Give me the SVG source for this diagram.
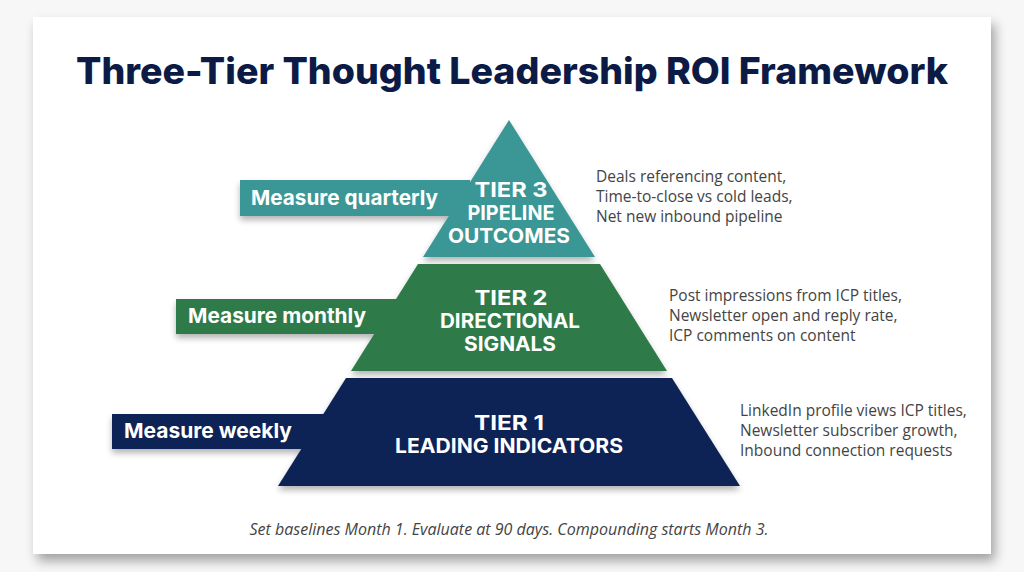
<svg xmlns="http://www.w3.org/2000/svg" width="1024" height="572" viewBox="0 0 1024 572">
  <defs>
    <filter id="cardShadow" x="-5%" y="-5%" width="112%" height="115%">
      <feGaussianBlur in="SourceAlpha" stdDeviation="6"/>
      <feOffset dx="4" dy="7" result="b"/>
      <feComponentTransfer><feFuncA type="linear" slope="0.35"/></feComponentTransfer>
      <feMerge><feMergeNode/><feMergeNode in="SourceGraphic"/></feMerge>
    </filter>
    <filter id="tierShadow" x="-10%" y="-10%" width="120%" height="130%">
      <feGaussianBlur in="SourceAlpha" stdDeviation="3"/>
      <feOffset dx="0" dy="4" result="b"/>
      <feComponentTransfer><feFuncA type="linear" slope="0.3"/></feComponentTransfer>
      <feMerge><feMergeNode/><feMergeNode in="SourceGraphic"/></feMerge>
    </filter>
    <style>
      .title { font-family: Inter, "Liberation Sans", sans-serif; font-weight: 800; font-size: 37px; fill: #0c1b46; }
      .band { font-family: Inter, "Liberation Sans", sans-serif; font-weight: 700; font-size: 20.5px; fill: #ffffff; }
      .tier { font-family: Inter, "Liberation Sans", sans-serif; font-weight: 700; font-size: 20px; fill: #ffffff; text-anchor: middle; }
      .desc { font-family: "Open Sans", "Liberation Sans", sans-serif; font-size: 15.5px; fill: #444444; }
      .foot { font-family: "Open Sans", "Liberation Sans", sans-serif; font-style: italic; font-size: 15.5px; fill: #444444; text-anchor: middle; }
      .teal { fill: #3b9696; }
      .green { fill: #2e7a48; }
      .navy { fill: #0d2154; }
    </style>
  </defs>
  <rect x="0" y="0" width="1024" height="572" fill="#f7f7f7"/>
  <rect x="33" y="17" width="958" height="537" fill="#ffffff" filter="url(#cardShadow)"/>
  <text class="title" x="512" y="84" text-anchor="middle" textLength="872" lengthAdjust="spacingAndGlyphs">Three-Tier Thought Leadership ROI Framework</text>

  <g id="tier3">
    <g filter="url(#tierShadow)">
      <rect class="teal" x="240" y="180" width="230" height="36"/>
      <polygon class="teal" points="509,120 595,257 423,257"/>
    </g>
    <text class="band" x="251" y="205" textLength="187" lengthAdjust="spacingAndGlyphs">Measure quarterly</text>
    <text class="tier" x="511" y="197" textLength="73" lengthAdjust="spacingAndGlyphs">TIER 3</text>
    <text class="tier" x="511" y="220" textLength="87" lengthAdjust="spacingAndGlyphs">PIPELINE</text>
    <text class="tier" x="509" y="243" textLength="122" lengthAdjust="spacingAndGlyphs">OUTCOMES</text>
    <text class="desc" x="596" y="182">Deals referencing content,</text>
    <text class="desc" x="596" y="202">Time-to-close vs cold leads,</text>
    <text class="desc" x="596" y="222">Net new inbound pipeline</text>
  </g>

  <g id="tier2">
    <g filter="url(#tierShadow)">
      <rect class="green" x="176" y="299" width="230" height="35"/>
      <polygon class="green" points="418,264 600,264 667,371 351,371"/>
    </g>
    <text class="band" x="188" y="323" textLength="178" lengthAdjust="spacingAndGlyphs">Measure monthly</text>
    <text class="tier" x="511" y="305" textLength="73" lengthAdjust="spacingAndGlyphs">TIER 2</text>
    <text class="tier" x="510" y="328" textLength="140" lengthAdjust="spacingAndGlyphs">DIRECTIONAL</text>
    <text class="tier" x="510" y="351" textLength="92" lengthAdjust="spacingAndGlyphs">SIGNALS</text>
    <text class="desc" x="669" y="301">Post impressions from ICP titles,</text>
    <text class="desc" x="669" y="321">Newsletter open and reply rate,</text>
    <text class="desc" x="669" y="341">ICP comments on content</text>
  </g>

  <g id="tier1">
    <g filter="url(#tierShadow)">
      <rect class="navy" x="112" y="414" width="240" height="35"/>
      <polygon class="navy" points="346,378 672,378 740,486 278,486"/>
    </g>
    <text class="band" x="124" y="438" textLength="168" lengthAdjust="spacingAndGlyphs">Measure weekly</text>
    <text class="tier" x="509" y="430" textLength="70" lengthAdjust="spacingAndGlyphs">TIER 1</text>
    <text class="tier" x="509" y="453" textLength="228" lengthAdjust="spacingAndGlyphs">LEADING INDICATORS</text>
    <text class="desc" x="740" y="416">LinkedIn profile views ICP titles,</text>
    <text class="desc" x="740" y="436">Newsletter subscriber growth,</text>
    <text class="desc" x="740" y="456">Inbound connection requests</text>
  </g>

  <text class="foot" x="509" y="535" textLength="519" lengthAdjust="spacingAndGlyphs">Set baselines Month 1. Evaluate at 90 days. Compounding starts Month 3.</text>
</svg>
